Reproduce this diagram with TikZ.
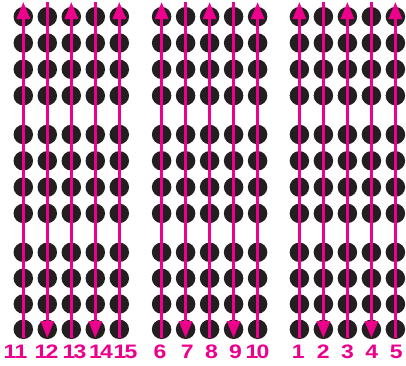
\documentclass[tikz,border=0pt]{standalone}
\usepackage{fontspec}
\setmainfont{Liberation Sans}
\newfontfamily\labfont[FakeStretch=1.18]{Liberation Sans Bold}
\usetikzlibrary{arrows.meta}
\definecolor{dotc}{HTML}{231F20}
\definecolor{pinkc}{HTML}{EC008C}
\newcommand{\tightnum}[2]{#1\kern-1.8pt#2}
\tikzset{
  dotn/.style={circle,fill=dotc,minimum size=19.5pt,inner sep=0pt},
  arr/.style={draw=pinkc,line width=2.8pt,-{Triangle[width=13pt,length=17pt]}},
  lab/.style={text=pinkc,font=\labfont\fontsize{19.5}{19.5}\selectfont,inner sep=0pt}
}
\begin{document}
\begin{tikzpicture}[x=1pt,y=-1pt]
\useasboundingbox (0,0) rectangle (406,365);
\foreach \g/\gx in {0/23.3,1/161.6,2/299.4}{
  \foreach \c in {1,...,5}{
    \pgfmathsetmacro{\xx}{\gx+(\c-1)*24}
    \foreach \r/\ry in {1/16.7,2/43,3/69.3,4/95.6,5/134.5,6/160.8,7/187.1,8/213.4,9/252.3,10/278.3,11/304,12/329.3}{
      \node[dotn] (d\g-\c-\r) at (\xx,\ry) {};
    }
    \coordinate (t\g-\c) at (\xx,2);
    \coordinate (b\g-\c) at (\xx,338);
  }
  \draw[arr] (b\g-1) -- (t\g-1);
  \draw[arr] (t\g-2) -- (b\g-2);
  \draw[arr] (b\g-3) -- (t\g-3);
  \draw[arr] (t\g-4) -- (b\g-4);
  \draw[arr] (b\g-5) -- (t\g-5);
}
\foreach \nm/\txt/\lx in {11/{\tightnum11}/15.5,12/{\tightnum12}/46.5,13/{\tightnum13}/74.5,14/{\tightnum14}/101,15/{\tightnum15}/125.5,6/6/160,7/7/187.3,8/8/211.5,9/9/235.6,10/{\tightnum10}/257.5,1/1/298.2,2/2/323.3,3/3/347.5,4/4/371.7,5/5/396.3}{
  \node[lab] (l\nm) at (\lx,352) {\txt};
}
\end{tikzpicture}
\end{document}
